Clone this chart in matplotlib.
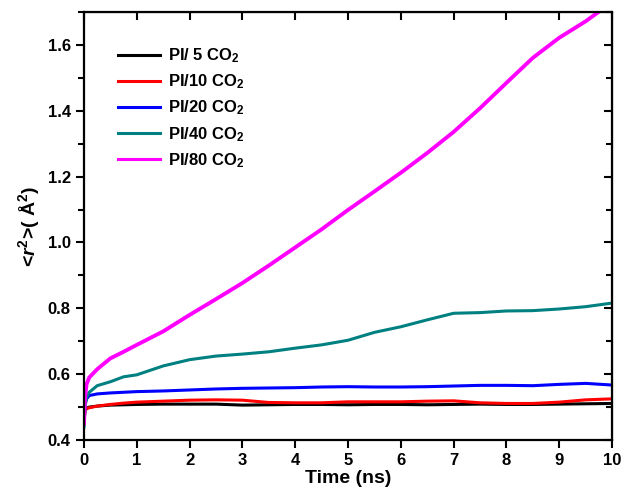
import matplotlib.pyplot as plt
from matplotlib.ticker import MultipleLocator, FormatStrFormatter

plt.rcParams['font.family'] = ['Liberation Sans', 'DejaVu Sans']
plt.rcParams['font.weight'] = 'bold'
plt.rcParams['mathtext.fontset'] = 'custom'
plt.rcParams['mathtext.rm'] = 'Liberation Sans:bold'
plt.rcParams['mathtext.it'] = 'Liberation Sans:bold:italic'
plt.rcParams['mathtext.bf'] = 'Liberation Sans:bold'

# time points (ns)
time = [0, 0.02, 0.05, 0.1, 0.25, 0.5, 0.75, 1, 1.5, 2, 2.5, 3, 3.5, 4,
        4.5, 5, 5.5, 6, 6.5, 7, 7.5, 8, 8.5, 9, 9.5, 10]

# <r^2> values
pi_5 = [0.46, 0.49, 0.497, 0.500, 0.503, 0.506, 0.507, 0.508, 0.509, 0.509,
        0.509, 0.506, 0.507, 0.508, 0.508, 0.507, 0.508, 0.508, 0.507, 0.508,
        0.509, 0.508, 0.508, 0.509, 0.510, 0.511]
pi_10 = [0.46, 0.49, 0.495, 0.498, 0.503, 0.508, 0.512, 0.515, 0.518, 0.521,
         0.522, 0.521, 0.514, 0.513, 0.513, 0.516, 0.516, 0.516, 0.518, 0.519,
         0.513, 0.511, 0.511, 0.515, 0.522, 0.525]
pi_20 = [0.46, 0.51, 0.525, 0.535, 0.540, 0.543, 0.545, 0.547, 0.549, 0.552,
         0.555, 0.557, 0.558, 0.559, 0.561, 0.562, 0.561, 0.561, 0.562, 0.564,
         0.566, 0.566, 0.565, 0.569, 0.572, 0.567]
pi_40 = [0.44, 0.50, 0.530, 0.545, 0.565, 0.577, 0.592, 0.598, 0.625, 0.644,
         0.655, 0.661, 0.668, 0.679, 0.689, 0.703, 0.727, 0.744, 0.765, 0.785,
         0.787, 0.792, 0.793, 0.798, 0.805, 0.816]
pi_80 = [0.45, 0.53, 0.570, 0.590, 0.615, 0.648, 0.668, 0.689, 0.730, 0.780,
         0.828, 0.877, 0.930, 0.985, 1.040, 1.099, 1.155, 1.212, 1.272, 1.336,
         1.408, 1.485, 1.561, 1.622, 1.672, 1.730]

series = [pi_5, pi_10, pi_20, pi_40, pi_80]
labels = ['PI/ 5 CO$_2$', 'PI/10 CO$_2$', 'PI/20 CO$_2$', 'PI/40 CO$_2$', 'PI/80 CO$_2$']
colors = ['black', 'red', 'blue', '#008080', 'magenta']

fig = plt.figure(figsize=(6.22, 4.93), dpi=100)
ax = fig.add_axes([0.135, 0.1075, 0.849, 0.868])

for ys, lab, c in zip(series, labels, colors):
    ax.plot(time, ys, color=c, lw=2.8 if c == 'magenta' else 2.2, label=lab)

ax.set_xlim(0, 10)
ax.set_ylim(0.4, 1.7)
ax.xaxis.set_major_locator(MultipleLocator(1))
ax.yaxis.set_major_locator(MultipleLocator(0.2))
ax.yaxis.set_minor_locator(MultipleLocator(0.1))
ax.yaxis.set_major_formatter(FormatStrFormatter('%.1f'))
ax.tick_params(which='both', direction='out', width=1.5, labelsize=12)
ax.tick_params(which='major', length=6)
ax.tick_params(which='minor', length=4)
for s in ax.spines.values():
    s.set_linewidth(1.6)

# mirrored ticks pointing inward on top/right
top = ax.secondary_xaxis('top')
top.xaxis.set_major_locator(MultipleLocator(1))
top.tick_params(direction='in', length=6, width=1.5, labeltop=False)
right = ax.secondary_yaxis('right')
right.yaxis.set_major_locator(MultipleLocator(0.2))
right.yaxis.set_minor_locator(MultipleLocator(0.1))
right.tick_params(which='both', direction='in', width=1.5, labelright=False)
right.tick_params(which='major', length=6)
right.tick_params(which='minor', length=4)

ax.set_xlabel('Time (ns)', fontsize=14, fontweight='bold', labelpad=1)
ax.set_ylabel('<$\\it{r}^2$>( Å$^2$)', fontsize=14, fontweight='bold', labelpad=4)

leg = ax.legend(loc='upper left', bbox_to_anchor=(0.036, 0.955), frameon=False,
                fontsize=12, handlelength=2.5, handletextpad=0.5, labelspacing=0.45)
for line in leg.get_lines():
    line.set_linewidth(2.2)

fig.savefig('out.png', dpi=100)
